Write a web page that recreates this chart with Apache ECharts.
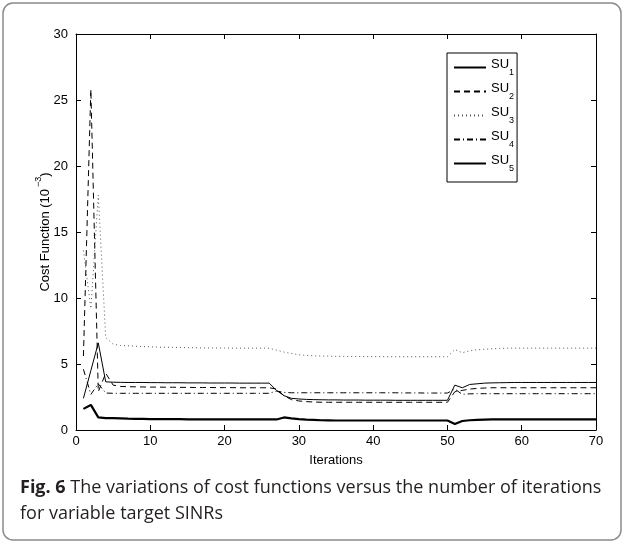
<!DOCTYPE html>
<html>
<head>
<meta charset="utf-8">
<script src="https://cdn.jsdelivr.net/npm/echarts@6/dist/echarts.min.js"></script>
<style>
  html, body { margin: 0; padding: 0; background: #fff; }
  #chart { width: 624px; height: 544px; }
</style>
</head>
<body>
<div id="chart"></div>
<script>
// Iteration index 1..70
const iterations = Array.from({ length: 70 }, (_, i) => i + 1);

// Cost function values (x 10^-3) per secondary user
const su1 = [
  2.4, 4.5, 6.6, 3.65, 3.62, 3.61, 3.6, 3.6, 3.6, 3.59,
  3.59, 3.58, 3.58, 3.58, 3.57, 3.57, 3.57, 3.56, 3.56, 3.56,
  3.56, 3.55, 3.55, 3.55, 3.55, 3.55, 3.0, 2.6, 2.4, 2.35,
  2.32, 2.3, 2.29, 2.28, 2.28, 2.27, 2.27, 2.27, 2.26, 2.26,
  2.26, 2.26, 2.25, 2.25, 2.25, 2.25, 2.25, 2.25, 2.25, 2.25,
  3.4, 3.2, 3.45, 3.5, 3.55, 3.57, 3.58, 3.59, 3.6, 3.6,
  3.6, 3.6, 3.6, 3.6, 3.6, 3.6, 3.6, 3.6, 3.6, 3.6
];
const su2 = [
  5.6, 25.8, 2.9, 4.3, 3.4, 3.3, 3.28, 3.27, 3.26, 3.25,
  3.25, 3.24, 3.24, 3.23, 3.23, 3.22, 3.22, 3.22, 3.21, 3.21,
  3.21, 3.2, 3.2, 3.2, 3.2, 3.2, 3.1, 2.6, 2.3, 2.2,
  2.15, 2.12, 2.1, 2.1, 2.1, 2.1, 2.1, 2.1, 2.1, 2.1,
  2.1, 2.1, 2.1, 2.1, 2.1, 2.1, 2.1, 2.1, 2.1, 2.1,
  2.9, 3.0, 3.1, 3.15, 3.18, 3.2, 3.2, 3.2, 3.2, 3.2,
  3.2, 3.2, 3.2, 3.2, 3.2, 3.2, 3.2, 3.2, 3.2, 3.2
];
const su3 = [
  13.6, 9.2, 17.8, 7.0, 6.5, 6.4, 6.38, 6.35, 6.32, 6.3,
  6.28, 6.27, 6.26, 6.25, 6.24, 6.23, 6.22, 6.22, 6.21, 6.21,
  6.2, 6.2, 6.2, 6.2, 6.2, 6.2, 6.05, 5.9, 5.8, 5.7,
  5.65, 5.62, 5.6, 5.6, 5.58, 5.58, 5.57, 5.57, 5.56, 5.56,
  5.56, 5.55, 5.55, 5.55, 5.55, 5.55, 5.55, 5.55, 5.55, 5.55,
  6.1, 5.85, 6.0, 6.08, 6.12, 6.15, 6.18, 6.2, 6.2, 6.2,
  6.2, 6.2, 6.2, 6.2, 6.2, 6.2, 6.2, 6.2, 6.2, 6.2
];
const su4 = [
  4.6, 2.7, 3.5, 2.8, 2.78, 2.78, 2.78, 2.78, 2.78, 2.78,
  2.78, 2.78, 2.78, 2.78, 2.78, 2.78, 2.78, 2.78, 2.78, 2.78,
  2.78, 2.78, 2.78, 2.78, 2.78, 2.78, 2.95, 2.85, 2.82, 2.82,
  2.82, 2.82, 2.82, 2.82, 2.82, 2.82, 2.82, 2.82, 2.82, 2.82,
  2.82, 2.82, 2.82, 2.81, 2.81, 2.81, 2.8, 2.8, 2.8, 2.8,
  3.1, 2.7, 2.74, 2.75, 2.75, 2.75, 2.75, 2.75, 2.75, 2.75,
  2.75, 2.75, 2.75, 2.75, 2.75, 2.75, 2.75, 2.75, 2.75, 2.75
];
const su5 = [
  1.6, 1.9, 0.96, 0.9, 0.9, 0.88, 0.86, 0.85, 0.84, 0.83,
  0.83, 0.82, 0.82, 0.82, 0.81, 0.81, 0.81, 0.81, 0.8, 0.8,
  0.8, 0.8, 0.8, 0.8, 0.8, 0.8, 0.8, 0.95, 0.88, 0.82,
  0.78, 0.76, 0.74, 0.73, 0.72, 0.72, 0.72, 0.72, 0.72, 0.72,
  0.72, 0.72, 0.72, 0.72, 0.72, 0.72, 0.72, 0.72, 0.72, 0.72,
  0.45, 0.68, 0.74, 0.76, 0.78, 0.8, 0.8, 0.8, 0.8, 0.8,
  0.8, 0.8, 0.8, 0.8, 0.8, 0.8, 0.8, 0.8, 0.8, 0.8
];

const seriesNames = ['SU1', 'SU2', 'SU3', 'SU4', 'SU5'];
const xTicks = { min: 0, max: 70, step: 10 };
const yTicks = { min: 0, max: 30, step: 5 };

const captionBold = 'Fig. 6';
const captionLine1 = ' The variations of cost functions versus the number of iterations';
const captionLine2 = 'for variable target SINRs';

const axisFont = 'Liberation Sans, Arial, Helvetica, sans-serif';

const lineStyles = [
  { color: '#000', width: 1, type: 'solid' },
  { color: '#000', width: 1, type: [6, 4] },
  { color: '#555', width: 1, type: [1, 3] },
  { color: '#000', width: 1, type: [6, 3, 1, 3] },
  { color: '#000', width: 2.2, type: 'solid' }
];
const values = [su1, su2, su3, su4, su5];

const chart = echarts.init(document.getElementById('chart'), null, { renderer: 'canvas' });

function mainAxis(extra) {
  return Object.assign({
    type: 'value',
    axisLine: { show: true, lineStyle: { color: '#000', width: 1 } },
    axisTick: { show: true, inside: true, length: 5, lineStyle: { color: '#000' } },
    splitLine: { show: false },
    axisLabel: { color: '#000', fontSize: 13, fontFamily: axisFont }
  }, extra);
}
function mirrorAxis(extra) {
  return Object.assign({
    type: 'value',
    axisLine: { show: true, onZero: false, lineStyle: { color: '#000', width: 1 } },
    axisTick: { show: true, inside: true, length: 5, lineStyle: { color: '#000' } },
    splitLine: { show: false },
    axisLabel: { show: false }
  }, extra);
}

const option = {
  animation: false,
  backgroundColor: '#fff',
  grid: { left: 76, right: 28, top: 34, bottom: 114, containLabel: false },
  xAxis: [
    mainAxis({
      min: xTicks.min, max: xTicks.max, interval: xTicks.step,
      name: 'Iterations', nameLocation: 'middle', nameGap: 24,
      nameMoveOverlap: false,
      nameTextStyle: { color: '#000', fontSize: 13, fontFamily: axisFont },
      axisLabel: { color: '#000', fontSize: 13, fontFamily: axisFont, margin: 5 },
      axisLine: { show: true, onZero: false, lineStyle: { color: '#000', width: 1 } }
    }),
    mirrorAxis({ position: 'top', min: xTicks.min, max: xTicks.max, interval: xTicks.step })
  ],
  yAxis: [
    mainAxis({
      min: yTicks.min, max: yTicks.max, interval: yTicks.step,
      name: '{t|Cost Function (10}{s|−3}{t|)}',
      nameLocation: 'middle', nameRotate: 90, nameGap: 24,
      nameMoveOverlap: false,
      nameTextStyle: {
        color: '#000', fontFamily: axisFont,
        rich: {
          t: { fontSize: 13, fontFamily: axisFont, color: '#000', lineHeight: 18, verticalAlign: 'bottom' },
          s: { fontSize: 9, fontFamily: axisFont, color: '#000', lineHeight: 18, verticalAlign: 'top', padding: [0, 0, 0, 2] }
        }
      },
      axisLabel: { color: '#000', fontSize: 13, fontFamily: axisFont, margin: 8 },
      axisLine: { show: true, onZero: false, lineStyle: { color: '#000', width: 1 } }
    }),
    mirrorAxis({ position: 'right', min: yTicks.min, max: yTicks.max, interval: yTicks.step })
  ],
  legend: {
    data: seriesNames,
    orient: 'vertical',
    left: 447,
    top: 53,
    itemWidth: 32,
    itemHeight: 12,
    itemGap: 5,
    padding: [5, 3, 9, 6],
    borderColor: '#000',
    borderWidth: 1,
    borderRadius: 0,
    backgroundColor: '#fff',
    selectedMode: false,
    // line samples only, no marker dot
    itemStyle: { opacity: 0 },
    formatter: function (name) {
      return '{m|SU}{s|' + name.slice(2) + '}';
    },
    textStyle: {
      rich: {
        m: { fontSize: 13, fontFamily: axisFont, color: '#000', lineHeight: 19, verticalAlign: 'top' },
        s: { fontSize: 9, fontFamily: axisFont, color: '#000', lineHeight: 19, verticalAlign: 'bottom' }
      }
    }
  },
  series: seriesNames.map((name, k) => ({
    name: name,
    type: 'line',
    xAxisIndex: 0,
    yAxisIndex: 0,
    showSymbol: false,
    symbol: 'none',
    data: iterations.map((it, i) => [it, values[k][i]]),
    lineStyle: lineStyles[k],
    itemStyle: { color: lineStyles[k].color },
    z: k === 4 ? 3 : 2
  })),
  graphic: [
    {
      type: 'rect',
      shape: { x: 3, y: 3, width: 618, height: 537, r: 10 },
      style: { fill: 'none', stroke: '#8a8a8a', lineWidth: 1.5 },
      silent: true,
      z: -1
    },
    {
      type: 'text',
      left: 20,
      top: 479,
      style: {
        text: '{b|' + captionBold + '}{r|' + captionLine1 + '}\n{r|' + captionLine2 + '}',
        rich: {
          b: { fontFamily: 'Open Sans', fontWeight: 'bold', fontSize: 18, fill: '#231f20', lineHeight: 26 },
          r: { fontFamily: 'Open Sans', fontSize: 18, fill: '#231f20', lineHeight: 26 }
        }
      },
      silent: true
    }
  ]
};

chart.setOption(option);
</script>
</body>
</html>
